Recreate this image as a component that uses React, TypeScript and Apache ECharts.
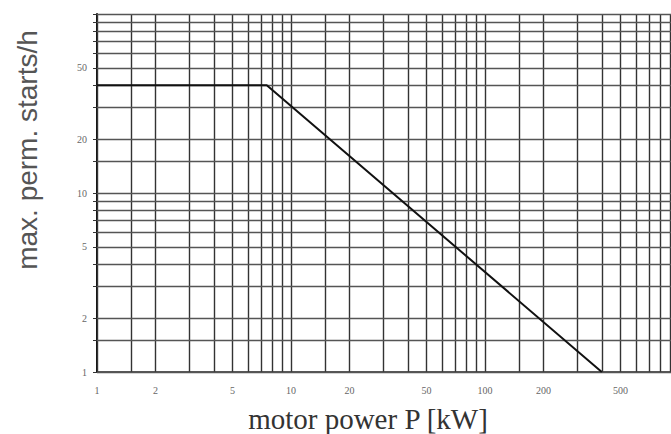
import React, { useEffect, useRef } from "react";
import * as echarts from "echarts";

// Curve: max. permissible starts per hour vs motor power
const powerKW = [1, 7.5, 400];
const startsPerHour = [40, 40, 1];

// Tick labels
const xTickLabels = [1, 2, 5, 10, 20, 50, 100, 200, 500];
const yTickLabels = [1, 2, 5, 10, 20, 50];

// Log-paper grid lines
const decadeSteps = [1, 1.5, 2, 3, 4, 5, 6, 7, 8, 9];
const xDecades = [1, 10, 100];
const yDecades = [1, 10];
const xGridValues = [...xDecades.flatMap((d) => decadeSteps.map((s) => s * d)), 1000];
const yGridValues = [...yDecades.flatMap((d) => decadeSteps.map((s) => s * d)), 100];

const xAxisTitle = "motor power P [kW]";
const yAxisTitle = "max. perm. starts/h";

export default function App() {
  const ref = useRef<HTMLDivElement>(null);
  useEffect(() => {
    if (!ref.current) return;
    const chart = echarts.init(ref.current, null, { renderer: "svg" });
    chart.setOption({
      animation: false,
      backgroundColor: "#ffffff",
      grid: {
        left: 97,
        top: 14,
        width: 582,
        height: 358,
        containLabel: false,
        outerBoundsMode: "none",
      },
      xAxis: {
        type: "log",
        logBase: 10,
        min: 1,
        max: 1000,
        axisLine: { show: true, onZero: false, lineStyle: { color: "#222", width: 1.5 } },
        axisTick: { show: false },
        splitLine: { show: false },
        axisLabel: {
          customValues: xTickLabels,
          color: "#666",
          fontFamily: "Liberation Serif",
          fontSize: 10,
          margin: 13,
          formatter: (v: number) => String(v),
        },
      },
      yAxis: {
        type: "log",
        logBase: 10,
        min: 1,
        max: 100,
        axisLine: { show: true, onZero: false, lineStyle: { color: "#111", width: 2 } },
        axisTick: { show: true, customValues: yGridValues, length: 4, lineStyle: { color: "#333" } },
        splitLine: { show: false },
        axisLabel: {
          customValues: yTickLabels,
          color: "#666",
          fontFamily: "Liberation Serif",
          fontSize: 10,
          margin: 10,
          formatter: (v: number) => String(v),
        },
      },
      graphic: [
        {
          type: "text",
          x: 27,
          y: 150,
          rotation: Math.PI / 2,
          style: {
            text: yAxisTitle,
            fill: "#555",
            font: "28px 'Liberation Sans'",
            align: "center",
            verticalAlign: "middle",
          },
        },
        {
          type: "text",
          x: 368,
          y: 419,
          style: {
            text: xAxisTitle,
            fill: "#333",
            font: "29px 'Liberation Serif'",
            align: "center",
            verticalAlign: "middle",
          },
        },
      ],
      series: [
        {
          type: "line",
          data: [],
          silent: true,
          markLine: {
            silent: true,
            symbol: ["none", "none"],
            label: { show: false },
            lineStyle: { color: "#333", width: 1.4, type: "solid" },
            data: xGridValues.map((v) => ({ xAxis: v })),
          },
        },
        {
          type: "line",
          data: [],
          silent: true,
          markLine: {
            silent: true,
            symbol: ["none", "none"],
            label: { show: false },
            lineStyle: { color: "#555", width: 1.3, type: "solid" },
            data: yGridValues.map((v) => ({ yAxis: v })),
          },
        },
        {
          type: "line",
          data: powerKW.map((p, i) => [p, startsPerHour[i]]),
          showSymbol: false,
          lineStyle: { color: "#111", width: 2 },
          z: 5,
        },
      ],
    });
    return () => chart.dispose();
  }, []);
  return (
    <div
      ref={ref}
      style={{ position: "fixed", left: 0, top: 0, width: 671, height: 434 }}
    />
  );
}
